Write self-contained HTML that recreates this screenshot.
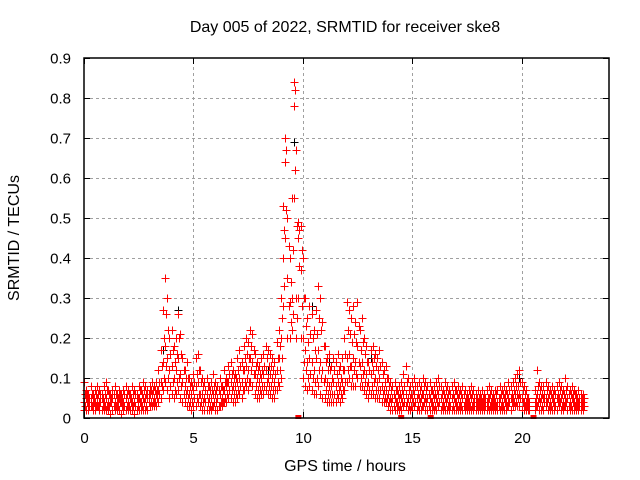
<!DOCTYPE html>
<html><head><meta charset="utf-8"><style>
html,body{margin:0;padding:0;background:#fff}
svg{display:block;font-family:"Liberation Sans",sans-serif}
</style></head><body>
<svg id="chart" width="640" height="480">
<rect width="640" height="480" fill="#fff"/>
<text x="345" y="32" font-size="16" text-anchor="middle">Day 005 of 2022, SRMTID for receiver ske8</text>
<g id="grid"></g>
<g id="black"></g>
<g id="red"></g>
<g id="axes"></g>
<text x="345" y="471" font-size="16" text-anchor="middle">GPS time / hours</text>
<text transform="translate(19,238) rotate(-90)" font-size="16" text-anchor="middle">SRMTID / TECUs</text>
</svg>
<script>
const xTicks=[0,5,10,15,20];
const yTicks=[0,0.1,0.2,0.3,0.4,0.5,0.6,0.7,0.8,0.9];
const yTickLabels=["0","0.1","0.2","0.3","0.4","0.5","0.6","0.7","0.8","0.9"];
// values in hundredths, one entry per 0.1 h starting at 0
const redHi=[9,7,6,8,6,7,8,7,6,8, 9,7,6,7,8,6,7,6,7,8, 7,6,8,7,6,8,7,9,8,7, 8,9,8,9,12,17,27,35,30,20,
22,18,20,26,21,15,12,14,10,9, 11,15,16,12,10,9,10,8,9,11, 9,8,10,8,12,10,13,14,12,11, 15,17,14,18,20,19,22,21,16,14,
13,15,16,18,17,16,15,14,19,22, 30,53,70,50,40,55,84,67,49,48, 40,30,25,28,26,22,27,33,30,24, 18,15,16,13,15,14,16,13,15,20,
29,27,25,28,24,29,22,25,20,18, 14,17,18,16,15,17,14,12,13,10, 9,8,9,7,8,9,11,13,10,8, 9,10,8,9,8,10,9,8,9,7,
8,9,10,8,7,9,8,7,8,9, 7,8,7,8,7,6,7,8,7,6, 7,6,7,6,7,8,7,6,7,7, 8,7,8,7,9,8,9,10,11,12,
9,8,7,5,null,null,7,12,9,8, 8,9,8,7,8,7,8,9,8,7, 10,8,7,8,7,6,7,6,6];
const redMid=[4,5,4,5,4,4,5,4,5,4, 5,4,4,5,4,4,5,4,4,5, 4,5,4,4,5,5,4,5,5,5, 6,6,5,6,7,9,14,18,15,12,
13,10,12,15,11,9,8,7,6,6, 7,8,9,6,6,5,6,5,5,6, 6,5,6,5,7,8,9,9,8,8, 9,10,9,12,13,12,15,14,11,10,
9,10,11,12,10,11,10,9,12,15, 20,40,64,35,29,30,78,30,45,37, 20,17,14,15,14,12,15,17,14,12, 10,9,8,8,9,8,9,8,9,12,
15,16,13,15,14,18,13,14,12,11, 9,11,12,10,9,10,8,7,7,6, 5,5,5,4,5,5,6,6,5,5, 5,6,5,5,5,6,5,5,5,4,
5,5,6,5,4,5,5,4,5,5, 4,5,4,5,4,4,4,5,4,4, 4,4,4,4,4,5,4,4,4,4, 5,4,5,4,5,5,5,6,6,6,
5,4,4,3,null,null,4,6,5,5, 5,5,5,4,5,4,5,5,5,4, 5,5,4,5,4,4,4,4,4];
const redLo=[2,2,2,3,2,2,3,2,2,2, 2,2,1,2,2,2,2,1,2,2, 2,2,2,1,2,2,2,2,2,2, 3,3,3,3,4,5,7,9,7,5,
6,5,6,7,5,4,4,3,3,2, 3,3,4,3,2,2,2,2,2,3, 2,2,3,3,4,4,5,5,4,4, 5,6,5,7,8,7,9,8,6,5,
5,6,6,7,6,6,5,5,7,8, 10,28,45,20,20,22,55,20,30,20, 10,8,7,8,7,6,6,8,6,5, 5,4,4,4,4,4,5,4,5,7,
9,10,8,8,8,10,8,8,7,6, 5,6,6,5,5,5,4,4,4,3, 2,2,2,2,2,2,3,3,2,2, 2,3,2,2,2,3,2,2,2,2,
2,2,3,2,2,2,2,2,2,2, 2,2,2,2,2,2,2,2,2,2, 2,2,2,2,2,2,2,2,2,2, 2,2,2,2,3,2,3,3,3,3,
2,2,2,2,null,null,2,3,2,2, 2,3,2,2,2,2,2,3,2,2, 3,2,2,2,2,2,2,2,2];
// second sampling, offset by 0.05 h
const redQ1=[3,4,3,3,4,3,3,4,3,3, 3,3,4,3,3,3,4,3,3,3, 3,4,3,3,3,4,3,4,3,4, 4,4,4,5,6,8,10,13,10,8,
9,7,9,10,8,6,6,5,4,4, 5,5,6,4,4,4,4,3,3,4, 4,3,4,4,5,6,7,7,6,6, 7,8,7,9,10,9,12,11,8,7,
7,8,8,9,8,8,7,7,9,12, 15,33,52,28,24,26,62,25,38,28, 14,12,10,11,10,9,10,12,10,9, 7,6,6,6,6,6,7,6,7,9,
12,13,10,12,11,14,10,11,9,8, 7,8,9,7,7,7,6,5,5,4, 4,3,4,3,3,4,4,4,3,3, 4,4,3,4,3,4,4,3,4,3,
3,4,4,3,3,4,3,3,3,4, 3,3,3,3,3,3,3,3,3,3, 3,3,3,3,3,3,3,3,3,3, 3,3,4,3,4,4,4,4,5,5,
4,3,3,2,null,null,3,4,4,3, 4,4,3,3,4,3,4,4,3,3, 4,3,3,4,3,3,3,3,3];
const redQ3=[6,6,5,6,5,6,6,6,5,6, 7,6,5,6,6,5,6,5,6,6, 6,5,6,6,5,7,6,7,6,6, 7,7,7,7,9,13,20,26,22,16,
17,14,16,20,16,12,10,10,8,8, 9,11,12,9,8,7,8,7,7,8, 7,7,8,7,9,9,11,11,10,10, 12,13,12,15,16,15,18,17,13,12,
11,12,13,15,13,13,12,11,15,18, 25,47,67,43,34,42,82,48,47,42, 30,23,19,21,20,17,21,25,22,18, 14,12,12,10,12,11,12,10,12,16,
22,21,19,21,19,23,17,19,16,14, 12,14,15,13,12,13,11,9,10,8, 7,6,7,6,6,7,8,9,7,6, 7,8,6,7,6,8,7,6,7,6,
6,7,8,6,6,7,6,6,6,7, 6,6,6,6,5,5,6,6,5,5, 5,5,5,5,5,6,5,5,6,5, 6,6,6,6,7,6,7,8,8,9,
7,6,5,4,null,null,5,8,7,6, 6,7,6,6,6,6,6,7,6,6, 7,6,6,6,6,5,5,5,5];
const blackT=[3.6,4.3,9.1,9.2,9.2,9.3,9.6,9.9,10.1,10.4,11.2,19.9,22.0,13.1,8.4];
const blackV=[0.17,0.27,0.40,0.70,0.64,0.50,0.69,0.37,0.30,0.28,0.14,0.10,0.10,0.15,0.12];
const zeroT=[9.8,14.5,15.85,20.55];

const X0=84,X1=609,Y0=418,Y1=58,XMAX=24,YMAX=0.9;
const sx=t=>X0+(X1-X0)*t/XMAX;
const sy=v=>Y0-(Y0-Y1)*v/YMAX;
const NS="http://www.w3.org/2000/svg";
function mk(tag,attrs,parent){const e=document.createElementNS(NS,tag);for(const k in attrs)e.setAttribute(k,attrs[k]);parent.appendChild(e);return e;}
const grid=document.getElementById('grid'),axes=document.getElementById('axes');
xTicks.forEach((t,i)=>{
  const x=Math.round(sx(t))+0.5;
  if(t>0){const g=mk('line',{x1:x,y1:Y0,x2:x,y2:Y1,stroke:'#a0a0a0','stroke-dasharray':'3,3'},grid);
  
  }
  mk('line',{x1:x,y1:Y0,x2:x,y2:Y0-6,stroke:'#000'},axes);
  mk('line',{x1:x,y1:Y1,x2:x,y2:Y1+6,stroke:'#000'},axes);
  const l=mk('text',{x:x,y:443,'font-size':15,'text-anchor':'middle'},axes);l.textContent=String(t);
  
  
});
yTicks.forEach((v,i)=>{
  const y=Math.round(sy(v))+0.5;
  if(v>0&&v<YMAX){const g=mk('line',{x1:X0,y1:y,x2:X1,y2:y,stroke:'#a0a0a0','stroke-dasharray':'3,3'},grid);
  
  }
  mk('line',{x1:X0,y1:y,x2:X0+6,y2:y,stroke:'#000'},axes);
  mk('line',{x1:X1,y1:y,x2:X1-6,y2:y,stroke:'#000'},axes);
  const l=mk('text',{x:71,y:y+5,'font-size':15,'text-anchor':'end'},axes);l.textContent=yTickLabels[i];
  
  
});
const fr=mk('rect',{x:X0,y:Y1,width:X1-X0,height:Y0-Y1,fill:'none',stroke:'#000','stroke-width':1.5},axes);


function plus(t,v,color,parent){
  const x=Math.round(sx(t))+0.5,y=Math.round(sy(v))+0.5;
  const p=mk('path',{d:`M${x-4} ${y}h8M${x} ${y-4}v8`,stroke:color,'stroke-width':1,fill:'none'},parent);
  
  
}
const bl=document.getElementById('black'),rd=document.getElementById('red');
blackT.forEach((t,i)=>plus(t,blackV[i],'#000',bl));
[redLo,redMid,redHi].forEach(arr=>arr.forEach((v,i)=>{if(v!==null)plus(i/10,v/100,'#f00',rd);}));
[redQ1,redQ3].forEach(arr=>arr.forEach((v,i)=>{if(v!==null)plus(i/10+0.05,v/100,'#f00',rd);}));
zeroT.forEach(t=>{const r=mk('rect',{x:sx(t)-3,y:Y0-3,width:6,height:4,fill:'#f00'},rd);

});
</script>
</body></html>
